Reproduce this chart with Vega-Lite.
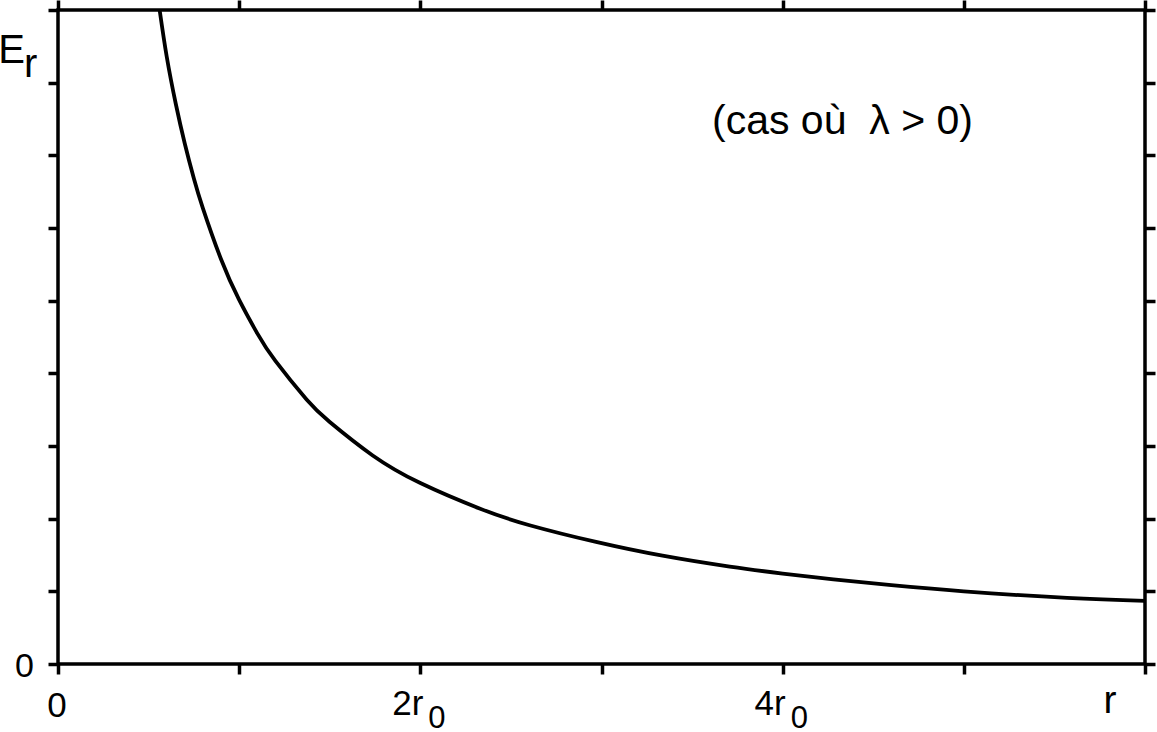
{
  "$schema": "https://vega.github.io/schema/vega-lite/v6.json",
  "width": 1087,
  "height": 654,
  "autosize": {"type": "none"},
  "padding": {"left": 58, "top": 10, "right": 12, "bottom": 68},
  "background": "white",
  "datasets": {
    "curve": [
      {"r": 0.561, "E": 9.0},
      {"r": 0.6, "E": 8.36},
      {"r": 0.65, "E": 7.71},
      {"r": 0.7, "E": 7.16},
      {"r": 0.75, "E": 6.68},
      {"r": 0.8, "E": 6.27},
      {"r": 0.9, "E": 5.57},
      {"r": 1.0, "E": 5.01},
      {"r": 1.1, "E": 4.55},
      {"r": 1.2, "E": 4.17},
      {"r": 1.372, "E": 3.64},
      {"r": 1.5, "E": 3.33},
      {"r": 1.737, "E": 2.87},
      {"r": 2.0, "E": 2.49},
      {"r": 2.327, "E": 2.14},
      {"r": 2.603, "E": 1.91},
      {"r": 2.97, "E": 1.68},
      {"r": 3.337, "E": 1.49},
      {"r": 3.708, "E": 1.34},
      {"r": 4.0, "E": 1.245},
      {"r": 4.28, "E": 1.165},
      {"r": 4.6, "E": 1.085},
      {"r": 5.0, "E": 1.0},
      {"r": 5.57, "E": 0.91},
      {"r": 6.0, "E": 0.87}
    ],
    "xlabels": [
      {"r": 2, "main": "2r", "sub": "0"},
      {"r": 4, "main": "4r", "sub": "0"}
    ],
    "single": [{"t": "x"}]
  },
  "resolve": {"axis": {"x": "independent", "y": "independent"}},
  "layer": [
    {
      "data": {"name": "curve"},
      "mark": {"type": "line", "color": "black", "strokeWidth": 3.8, "interpolate": "natural", "clip": true},
      "encoding": {
        "x": {
          "field": "r", "type": "quantitative",
          "scale": {"domain": [0, 6], "nice": false, "zero": false},
          "axis": {"orient": "bottom", "values": [0, 1, 2, 3, 4, 5, 6], "labels": false, "domain": false, "grid": false, "title": null, "tickSize": 10, "tickWidth": 3.5, "tickColor": "black"}
        },
        "y": {
          "field": "E", "type": "quantitative",
          "scale": {"domain": [0, 9], "nice": false, "zero": false},
          "axis": {"orient": "left", "values": [0, 1, 2, 3, 4, 5, 6, 7, 8, 9], "labels": false, "domain": false, "grid": false, "title": null, "tickSize": 10, "tickWidth": 3.5, "tickColor": "black"}
        }
      }
    },
    {
      "data": {"name": "curve"},
      "mark": {"type": "line", "opacity": 0},
      "encoding": {
        "x": {
          "field": "r", "type": "quantitative",
          "axis": {"orient": "top", "values": [0, 1, 2, 3, 4, 5, 6], "labels": false, "domain": false, "grid": false, "title": null, "tickSize": 10, "tickWidth": 3.5, "tickColor": "black"}
        },
        "y": {
          "field": "E", "type": "quantitative",
          "axis": {"orient": "right", "values": [0, 1, 2, 3, 4, 5, 6, 7, 8, 9], "labels": false, "domain": false, "grid": false, "title": null, "tickSize": 10, "tickWidth": 3.5, "tickColor": "black"}
        }
      }
    },
    {
      "data": {"name": "xlabels"},
      "mark": {"type": "text", "font": "Liberation Sans", "fontSize": 35, "align": "right", "baseline": "alphabetic", "dx": 3, "dy": 51, "color": "black"},
      "encoding": {
        "x": {"field": "r", "type": "quantitative", "axis": null},
        "y": {"datum": 0, "axis": null},
        "text": {"field": "main"}
      }
    },
    {
      "data": {"name": "xlabels"},
      "mark": {"type": "text", "font": "Liberation Sans", "fontSize": 31, "align": "left", "baseline": "alphabetic", "dx": 8, "dy": 64, "color": "black"},
      "encoding": {
        "x": {"field": "r", "type": "quantitative", "axis": null},
        "y": {"datum": 0, "axis": null},
        "text": {"field": "sub"}
      }
    },
    {
      "data": {"name": "single"},
      "mark": {"type": "text", "font": "Liberation Sans", "fontSize": 35, "align": "center", "baseline": "alphabetic", "dx": -1, "dy": 53, "color": "black", "text": "0"},
      "encoding": {
        "x": {"datum": 0, "axis": null},
        "y": {"datum": 0, "axis": null}
      }
    },
    {
      "data": {"name": "single"},
      "mark": {"type": "text", "font": "Liberation Sans", "fontSize": 39, "align": "center", "baseline": "alphabetic", "dx": -35, "dy": 49, "color": "black", "text": "r"},
      "encoding": {
        "x": {"datum": 6, "axis": null},
        "y": {"datum": 0, "axis": null}
      }
    },
    {
      "data": {"name": "single"},
      "mark": {"type": "text", "font": "Liberation Sans", "fontSize": 34, "align": "right", "baseline": "alphabetic", "dx": -24, "dy": 13, "color": "black", "text": "0"},
      "encoding": {
        "x": {"datum": 0, "axis": null},
        "y": {"datum": 0, "axis": null}
      }
    },
    {
      "data": {"name": "single"},
      "mark": {"type": "text", "font": "Liberation Sans", "fontSize": 40, "align": "right", "baseline": "alphabetic", "dx": -33, "dy": 53, "color": "black", "text": "E"},
      "encoding": {
        "x": {"datum": 0, "axis": null},
        "y": {"datum": 9, "axis": null}
      }
    },
    {
      "data": {"name": "single"},
      "mark": {"type": "text", "font": "Liberation Sans", "fontSize": 40, "align": "left", "baseline": "alphabetic", "dx": -34, "dy": 67, "color": "black", "text": "r"},
      "encoding": {
        "x": {"datum": 0, "axis": null},
        "y": {"datum": 9, "axis": null}
      }
    },
    {
      "data": {"name": "single"},
      "mark": {"type": "text", "font": "Liberation Sans", "fontSize": 41, "align": "left", "baseline": "alphabetic", "color": "black", "text": "(cas où \u00a0λ > 0)"},
      "encoding": {
        "x": {"datum": 3.61, "axis": null},
        "y": {"datum": 7.3, "axis": null}
      }
    }
  ],
  "config": {
    "view": {"stroke": "black", "strokeWidth": 3.5},
    "font": "Liberation Sans"
  }
}
